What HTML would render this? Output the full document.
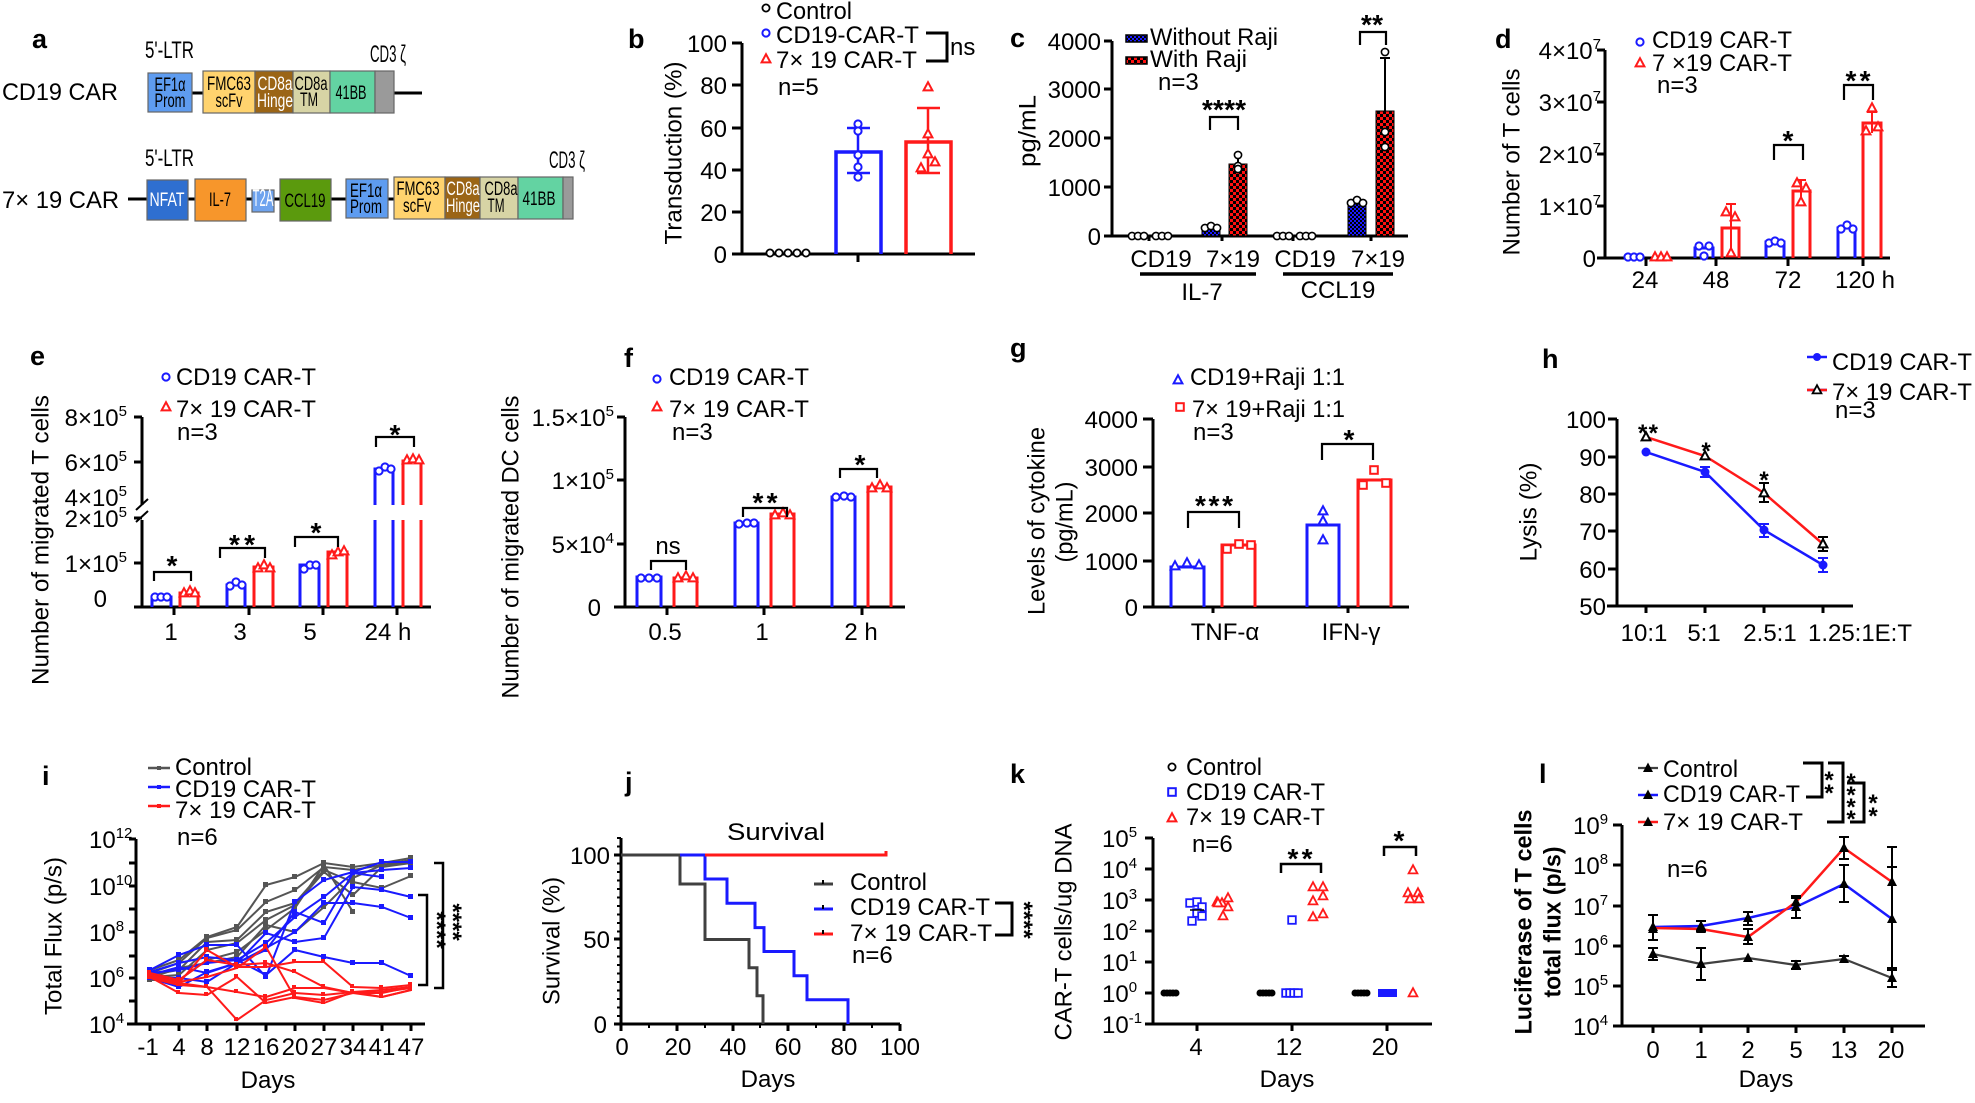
<!DOCTYPE html>
<html><head><meta charset="utf-8"><style>
html,body{margin:0;padding:0;background:#fff}
svg text{font-family:"Liberation Sans",Arial,"DejaVu Sans",sans-serif;font-size:24px;fill:#000}
.pl{font-weight:bold;font-size:27px}
.st{font-weight:bold;font-size:28px}
.bx{font-size:19px}
</style></head><body>
<svg width="1975" height="1098" viewBox="0 0 1975 1098" xmlns="http://www.w3.org/2000/svg">
<defs>
<circle id="ci" r="3.6"/>
<polygon id="tri" points="0,-4.8 -4.4,3.4 4.4,3.4"/>
<polygon id="trf" points="0,-5.5 -5,4 5,4"/>
<rect id="sq" x="-3.8" y="-3.8" width="7.6" height="7.6"/>
<pattern id="rch" width="6" height="6" patternUnits="userSpaceOnUse"><rect width="6" height="6" fill="#ff1010"/><rect width="3" height="3" fill="#000"/><rect x="3" y="3" width="3" height="3" fill="#000"/></pattern>
<pattern id="bch" width="4" height="4" patternUnits="userSpaceOnUse"><rect width="4" height="4" fill="#1a1aff"/><rect width="2" height="2" fill="#000"/><rect x="2" y="2" width="2" height="2" fill="#000"/></pattern>
<marker id="mgr" markerUnits="userSpaceOnUse" markerWidth="6" markerHeight="6" refX="3" refY="3"><rect width="5" height="5" fill="#555"/></marker>
<marker id="mbl" markerUnits="userSpaceOnUse" markerWidth="6" markerHeight="6" refX="3" refY="3"><rect width="5" height="5" fill="#1a1aff"/></marker>
<marker id="mrd" markerUnits="userSpaceOnUse" markerWidth="6" markerHeight="6" refX="3" refY="3"><rect width="4" height="4" fill="#ff1a1a"/></marker>
</defs>

<!-- ============ PANEL A ============ -->
<text x="32" y="48" class="pl">a</text>
<text x="145" y="58" font-size="20" textLength="49" lengthAdjust="spacingAndGlyphs">5'-LTR</text>
<text x="370" y="62" font-size="18" textLength="36" lengthAdjust="spacingAndGlyphs">CD3 ζ</text>
<text x="2" y="100" textLength="116" lengthAdjust="spacingAndGlyphs">CD19 CAR</text>
<path d="M190,93 H206 M392,93 H422" stroke="#000" stroke-width="3"/>
<g stroke="#666" stroke-width="1.2">
<rect x="148" y="73" width="44" height="39" fill="#5e9cf0"/>
<rect x="203" y="71" width="52" height="42" fill="#ffd36e"/>
<rect x="255" y="71" width="38" height="42" fill="#9b6516"/>
<rect x="293" y="71" width="37" height="42" fill="#d7d4a5"/>
<rect x="330" y="71" width="45" height="42" fill="#63d3a2"/>
<rect x="375" y="71" width="19" height="42" fill="#9a9a9a"/>
</g>
<g class="bx" text-anchor="middle">
<text class="bx" x="170" y="91" textLength="31" lengthAdjust="spacingAndGlyphs">EF1α</text>
<text class="bx" x="170" y="107" textLength="31" lengthAdjust="spacingAndGlyphs">Prom</text>
<text class="bx" x="229" y="90" textLength="44" lengthAdjust="spacingAndGlyphs">FMC63</text>
<text class="bx" x="229" y="107" textLength="27" lengthAdjust="spacingAndGlyphs">scFv</text>
<text class="bx" x="275" y="90" textLength="35" lengthAdjust="spacingAndGlyphs" style="fill:#fff">CD8a</text>
<text class="bx" x="275" y="107" textLength="36" lengthAdjust="spacingAndGlyphs" style="fill:#fff">Hinge</text>
<text class="bx" x="311" y="90" textLength="33" lengthAdjust="spacingAndGlyphs">CD8a</text>
<text class="bx" x="309" y="106" textLength="18" lengthAdjust="spacingAndGlyphs">TM</text>
<text class="bx" x="351" y="99" textLength="31" lengthAdjust="spacingAndGlyphs">41BB</text>
</g>
<text x="145" y="166" font-size="20" textLength="49" lengthAdjust="spacingAndGlyphs">5'-LTR</text>
<text x="549" y="168" font-size="18" textLength="36" lengthAdjust="spacingAndGlyphs">CD3 ζ</text>
<text x="2" y="208" textLength="117" lengthAdjust="spacingAndGlyphs">7× 19 CAR</text>
<path d="M128,199 H394" stroke="#000" stroke-width="3"/>
<g stroke="#666" stroke-width="1.2">
<rect x="147" y="180" width="41" height="40" fill="#2f6fd0"/>
<rect x="195" y="179" width="51" height="42" fill="#f7962b"/>
<rect x="252" y="190" width="22" height="22" fill="#6ea3ee"/>
<rect x="280" y="179" width="51" height="42" fill="#5b9a0d"/>
<rect x="346" y="179" width="42" height="39" fill="#5e9cf0"/>
<rect x="394" y="177" width="51" height="42" fill="#ffd36e"/>
<rect x="445" y="177" width="35" height="42" fill="#9b6516"/>
<rect x="480" y="177" width="38" height="42" fill="#d7d4a5"/>
<rect x="518" y="177" width="45" height="42" fill="#63d3a2"/>
<rect x="563" y="177" width="10" height="42" fill="#9a9a9a"/>
</g>
<g text-anchor="middle">
<text class="bx" x="167" y="206" textLength="35" lengthAdjust="spacingAndGlyphs" style="fill:#fff">NFAT</text>
<text class="bx" x="220" y="206" textLength="22" lengthAdjust="spacingAndGlyphs">IL-7</text>
<text x="263" y="206" font-size="16" textLength="21" lengthAdjust="spacingAndGlyphs" style="fill:#fff">T2A</text>
<text class="bx" x="305" y="207" textLength="41" lengthAdjust="spacingAndGlyphs">CCL19</text>
<text class="bx" x="366" y="197" textLength="32" lengthAdjust="spacingAndGlyphs">EF1α</text>
<text class="bx" x="366" y="213" textLength="32" lengthAdjust="spacingAndGlyphs">Prom</text>
<text class="bx" x="418" y="195" textLength="43" lengthAdjust="spacingAndGlyphs">FMC63</text>
<text class="bx" x="417" y="212" textLength="28" lengthAdjust="spacingAndGlyphs">scFv</text>
<text class="bx" x="463" y="195" textLength="33" lengthAdjust="spacingAndGlyphs" style="fill:#fff">CD8a</text>
<text class="bx" x="463" y="212" textLength="34" lengthAdjust="spacingAndGlyphs" style="fill:#fff">Hinge</text>
<text class="bx" x="501" y="195" textLength="33" lengthAdjust="spacingAndGlyphs">CD8a</text>
<text class="bx" x="496" y="212" textLength="17" lengthAdjust="spacingAndGlyphs">TM</text>
<text class="bx" x="539" y="205" textLength="33" lengthAdjust="spacingAndGlyphs">41BB</text>
</g>

<!-- ============ PANEL B ============ -->
<text x="628" y="48" class="pl">b</text>
<path d="M742,43 V254 M732,43 H742 M732,85 H742 M732,128 H742 M732,170 H742 M732,212 H742 M732,254 H975 M858,254 V262" stroke="#000" stroke-width="3" fill="none"/>
<g text-anchor="end"><text x="727" y="52">100</text><text x="727" y="94">80</text><text x="727" y="137">60</text><text x="727" y="179">40</text><text x="727" y="221">20</text><text x="727" y="263">0</text></g>
<text transform="translate(673,153) rotate(-90)" text-anchor="middle" dy="0.35em" textLength="183" lengthAdjust="spacingAndGlyphs">Transduction (%)</text>
<path d="M836,254 V152 H881 V254" stroke="#1a1aff" stroke-width="3.5" fill="none"/>
<path d="M906,254 V142 H951 V254" stroke="#ff1a1a" stroke-width="3.5" fill="none"/>
<path d="M858,128 V173 M847,128 H870 M847,173 H870" stroke="#1a1aff" stroke-width="2.5"/>
<path d="M928,108 V173 M917,108 H940 M917,173 H940" stroke="#ff1a1a" stroke-width="2.5"/>
<g fill="#fff" stroke="#000" stroke-width="1.8"><use href="#ci" x="770" y="253"/><use href="#ci" x="779" y="253"/><use href="#ci" x="788" y="253"/><use href="#ci" x="797" y="253"/><use href="#ci" x="806" y="253"/></g>
<g fill="#fff" stroke="#1a1aff" stroke-width="2"><use href="#ci" x="858" y="124"/><use href="#ci" x="858" y="131"/><use href="#ci" x="858" y="155"/><use href="#ci" x="858" y="167"/><use href="#ci" x="858" y="177"/></g>
<g fill="#fff" stroke="#ff1a1a" stroke-width="2"><use href="#tri" x="928" y="87"/><use href="#tri" x="928" y="134"/><use href="#tri" x="928" y="154"/><use href="#tri" x="921" y="168"/><use href="#tri" x="935" y="162"/></g>
<use href="#ci" x="766" y="8" fill="#fff" stroke="#000" stroke-width="1.8"/>
<use href="#ci" x="766" y="33" fill="#fff" stroke="#1a1aff" stroke-width="2"/>
<use href="#tri" x="766" y="59" fill="#fff" stroke="#ff1a1a" stroke-width="2"/>
<text x="776" y="19" textLength="76" lengthAdjust="spacingAndGlyphs">Control</text>
<text x="776" y="43" textLength="143" lengthAdjust="spacingAndGlyphs">CD19-CAR-T</text>
<text x="776" y="68" textLength="141" lengthAdjust="spacingAndGlyphs">7× 19 CAR-T</text>
<text x="778" y="95">n=5</text>
<path d="M926,33 H947 V61 H926" stroke="#000" stroke-width="3" fill="none"/>
<text x="950" y="55">ns</text>

<!-- ============ PANEL C ============ -->
<text x="1010" y="47" class="pl">c</text>
<path d="M1112,41 V236 M1104,41 H1112 M1104,89 H1112 M1104,138 H1112 M1104,187 H1112 M1104,236 H1408 M1149,236 V241 M1222,236 V241 M1293,236 V241 M1371,236 V241" stroke="#000" stroke-width="3" fill="none"/>
<g text-anchor="end"><text x="1101" y="50">4000</text><text x="1101" y="98">3000</text><text x="1101" y="147">2000</text><text x="1101" y="196">1000</text><text x="1101" y="245">0</text></g>
<text transform="translate(1027,131) rotate(-90)" text-anchor="middle" dy="0.35em" textLength="72" lengthAdjust="spacingAndGlyphs">pg/mL</text>
<rect x="1126" y="35" width="21" height="7" fill="url(#bch)" stroke="#000" stroke-width="1.5"/>
<rect x="1126" y="57" width="21" height="7" fill="url(#rch)" stroke="#000" stroke-width="1.5"/>
<text x="1150" y="45" textLength="128" lengthAdjust="spacingAndGlyphs">Without Raji</text>
<text x="1150" y="67" textLength="97" lengthAdjust="spacingAndGlyphs">With Raji</text>
<text x="1158" y="90">n=3</text>
<rect x="1202" y="228" width="18" height="8" fill="url(#bch)" stroke="#000" stroke-width="1"/>
<rect x="1229" y="164" width="18" height="72" fill="url(#rch)" stroke="#000" stroke-width="1"/>
<rect x="1348" y="204" width="18" height="32" fill="url(#bch)" stroke="#000" stroke-width="1"/>
<rect x="1376" y="111" width="18" height="125" fill="url(#rch)" stroke="#000" stroke-width="1"/>
<path d="M1238,164 V154 M1234,154 H1242 M1385,111 V58 M1380,58 H1390" stroke="#000" stroke-width="2"/>
<g fill="#fff" stroke="#000" stroke-width="1.6">
<use href="#ci" x="1132" y="236"/><use href="#ci" x="1138" y="236"/><use href="#ci" x="1144" y="236"/><use href="#ci" x="1156" y="236"/><use href="#ci" x="1162" y="236"/><use href="#ci" x="1168" y="236"/>
<use href="#ci" x="1277" y="236"/><use href="#ci" x="1283" y="236"/><use href="#ci" x="1289" y="236"/><use href="#ci" x="1300" y="236"/><use href="#ci" x="1306" y="236"/><use href="#ci" x="1312" y="236"/>
<use href="#ci" x="1205" y="228"/><use href="#ci" x="1211" y="226"/><use href="#ci" x="1217" y="228"/>
<use href="#ci" x="1238" y="155"/><use href="#ci" x="1238" y="166"/><use href="#ci" x="1238" y="169"/>
<use href="#ci" x="1351" y="203"/><use href="#ci" x="1357" y="200"/><use href="#ci" x="1363" y="203"/>
<use href="#ci" x="1385" y="52"/><use href="#ci" x="1385" y="132"/><use href="#ci" x="1385" y="147"/>
</g>
<text x="1224" y="119" class="st" text-anchor="middle" textLength="44">****</text>
<path d="M1210,130 V117 H1238 V130" stroke="#000" stroke-width="2.2" fill="none"/>
<text x="1372" y="34" class="st" text-anchor="middle" textLength="22">**</text>
<path d="M1360,45 V32 H1386 V45" stroke="#000" stroke-width="2.2" fill="none"/>
<g text-anchor="middle"><text x="1161" y="267">CD19</text><text x="1233" y="267">7×19</text><text x="1305" y="267">CD19</text><text x="1378" y="267">7×19</text><text x="1202" y="300">IL-7</text><text x="1338" y="298">CCL19</text></g>
<path d="M1140,274 H1256 M1283,274 H1393" stroke="#000" stroke-width="3.5"/>

<!-- ============ PANEL D ============ -->
<text x="1495" y="48" class="pl">d</text>
<path d="M1605,50 V258 M1597,50 H1605 M1597,102 H1605 M1597,154 H1605 M1597,206 H1605 M1597,258 H1890 M1646,258 V266 M1716,258 V266 M1788,258 V266 M1863,258 V266" stroke="#000" stroke-width="3" fill="none"/>
<g text-anchor="end">
<text x="1601" y="59">4×10<tspan dy="-10" font-size="15">7</tspan></text>
<text x="1601" y="111">3×10<tspan dy="-10" font-size="15">7</tspan></text>
<text x="1601" y="163">2×10<tspan dy="-10" font-size="15">7</tspan></text>
<text x="1601" y="215">1×10<tspan dy="-10" font-size="15">7</tspan></text>
<text x="1596" y="267">0</text></g>
<text transform="translate(1511,162) rotate(-90)" text-anchor="middle" dy="0.35em" textLength="187" lengthAdjust="spacingAndGlyphs">Number of T cells</text>
<g text-anchor="middle"><text x="1645" y="288">24</text><text x="1716" y="288">48</text><text x="1788" y="288">72</text><text x="1865" y="288">120 h</text></g>
<use href="#ci" x="1640" y="42" fill="#fff" stroke="#1a1aff" stroke-width="2"/>
<use href="#tri" x="1640" y="63" fill="#fff" stroke="#ff1a1a" stroke-width="2"/>
<text x="1652" y="48" textLength="140" lengthAdjust="spacingAndGlyphs">CD19 CAR-T</text>
<text x="1652" y="71" textLength="140" lengthAdjust="spacingAndGlyphs">7 ×19 CAR-T</text>
<text x="1657" y="93">n=3</text>
<g stroke="#1a1aff" stroke-width="3" fill="none"><path d="M1695,258 V248 H1713 V258"/><path d="M1766,258 V242 H1784 V258"/><path d="M1838,258 V228 H1855 V258"/></g>
<g stroke="#ff1a1a" stroke-width="3" fill="none"><path d="M1722,258 V228 H1739 V258"/><path d="M1793,258 V191 H1810 V258"/><path d="M1863,258 V123 H1881 V258"/>
<path d="M1731,204 V252 M1726,204 H1736 M1801,180 V200 M1796,180 H1806 M1872,112 V133 M1867,112 H1877" stroke-width="2"/></g>
<g fill="#fff" stroke="#1a1aff" stroke-width="2"><use href="#ci" x="1628" y="257"/><use href="#ci" x="1634" y="257"/><use href="#ci" x="1640" y="257"/><use href="#ci" x="1699" y="246"/><use href="#ci" x="1709" y="246"/><use href="#ci" x="1704" y="256"/><use href="#ci" x="1769" y="243"/><use href="#ci" x="1775" y="241"/><use href="#ci" x="1781" y="243"/><use href="#ci" x="1841" y="229"/><use href="#ci" x="1847" y="225"/><use href="#ci" x="1853" y="229"/></g>
<g fill="#fff" stroke="#ff1a1a" stroke-width="2"><use href="#tri" x="1655" y="257"/><use href="#tri" x="1661" y="257"/><use href="#tri" x="1667" y="257"/><use href="#tri" x="1726" y="212"/><use href="#tri" x="1735" y="217"/><use href="#tri" x="1731" y="253"/><use href="#tri" x="1797" y="183"/><use href="#tri" x="1806" y="188"/><use href="#tri" x="1801" y="202"/><use href="#tri" x="1872" y="108"/><use href="#tri" x="1866" y="131"/><use href="#tri" x="1878" y="127"/></g>
<text x="1788" y="150" class="st" text-anchor="middle">*</text>
<path d="M1774,160 V145 H1803 V160" stroke="#000" stroke-width="2.2" fill="none"/>
<text x="1858" y="90" class="st" text-anchor="middle" textLength="25">**</text>
<path d="M1844,100 V85 H1873 V100" stroke="#000" stroke-width="2.2" fill="none"/>

<!-- ============ PANEL E ============ -->
<text x="30" y="365" class="pl">e</text>
<path d="M142,417 V505 M142,520 V607 M134,417 H142 M134,462 H142 M134,518 H142 M134,563 H142 M134,607 H431 M174,607 V615 M249,607 V615 M323,607 V615 M397,607 V615" stroke="#000" stroke-width="3" fill="none"/>
<path d="M136,510 L148,499 M136,522 L148,511" stroke="#000" stroke-width="2"/>
<g text-anchor="end">
<text x="127" y="426">8×10<tspan dy="-10" font-size="15">5</tspan></text>
<text x="127" y="471">6×10<tspan dy="-10" font-size="15">5</tspan></text>
<text x="127" y="506">4×10<tspan dy="-10" font-size="15">5</tspan></text>
<text x="127" y="527">2×10<tspan dy="-10" font-size="15">5</tspan></text>
<text x="127" y="572">1×10<tspan dy="-10" font-size="15">5</tspan></text>
<text x="107" y="607">0</text></g>
<text transform="translate(40,540) rotate(-90)" text-anchor="middle" dy="0.35em" textLength="290" lengthAdjust="spacingAndGlyphs">Number of  migrated T cells</text>
<g text-anchor="middle"><text x="171" y="640">1</text><text x="240" y="640">3</text><text x="310" y="640">5</text><text x="388" y="640">24 h</text></g>
<use href="#ci" x="166" y="377" fill="#fff" stroke="#1a1aff" stroke-width="2"/>
<use href="#tri" x="166" y="407" fill="#fff" stroke="#ff1a1a" stroke-width="2"/>
<text x="176" y="385" textLength="140" lengthAdjust="spacingAndGlyphs">CD19 CAR-T</text>
<text x="176" y="417" textLength="140" lengthAdjust="spacingAndGlyphs">7× 19 CAR-T</text>
<text x="177" y="440">n=3</text>
<g stroke="#1a1aff" stroke-width="3" fill="none"><path d="M152,607 V597 H171 V607"/><path d="M227,607 V585 H245 V607"/><path d="M300,607 V565 H319 V607"/><path d="M375,607 V520 M375,505 V469 H393 V505 M393,520 V607"/></g>
<g stroke="#ff1a1a" stroke-width="3" fill="none"><path d="M180,607 V593 H198 V607"/><path d="M254,607 V567 H273 V607"/><path d="M328,607 V552 H347 V607"/><path d="M403,607 V520 M403,505 V461 H421 V505 M421,520 V607"/></g>
<g fill="#fff" stroke="#1a1aff" stroke-width="2"><use href="#ci" x="155" y="597"/><use href="#ci" x="161" y="597"/><use href="#ci" x="167" y="597"/><use href="#ci" x="230" y="586"/><use href="#ci" x="236" y="582"/><use href="#ci" x="242" y="585"/><use href="#ci" x="304" y="569"/><use href="#ci" x="310" y="565"/><use href="#ci" x="316" y="565"/><use href="#ci" x="379" y="471"/><use href="#ci" x="385" y="467"/><use href="#ci" x="391" y="469"/></g>
<g fill="#fff" stroke="#ff1a1a" stroke-width="2"><use href="#tri" x="184" y="593"/><use href="#tri" x="190" y="591"/><use href="#tri" x="195" y="593"/><use href="#tri" x="258" y="568"/><use href="#tri" x="264" y="565"/><use href="#tri" x="270" y="568"/><use href="#tri" x="332" y="555"/><use href="#tri" x="338" y="552"/><use href="#tri" x="344" y="551"/><use href="#tri" x="407" y="460"/><use href="#tri" x="413" y="459"/><use href="#tri" x="419" y="460"/></g>
<g class="st" text-anchor="middle"><text class="st" x="172" y="575">*</text><text class="st" x="242" y="554" textLength="26">**</text><text class="st" x="316" y="542">*</text><text class="st" x="395" y="444">*</text></g>
<path d="M154,581 V572 H191 V581 M220,558 V548 H265 V558 M295,547 V537 H338 V547 M376,447 V437 H414 V447" stroke="#000" stroke-width="2.2" fill="none"/>

<!-- ============ PANEL F ============ -->
<text x="624" y="367" class="pl">f</text>
<path d="M625,417 V607 M617,417 H625 M617,480 H625 M617,544 H625 M614,607 H905 M667,607 V615 M764,607 V615 M862,607 V615" stroke="#000" stroke-width="3" fill="none"/>
<g text-anchor="end">
<text x="614" y="426">1.5×10<tspan dy="-10" font-size="15">5</tspan></text>
<text x="614" y="489">1×10<tspan dy="-10" font-size="15">5</tspan></text>
<text x="614" y="553">5×10<tspan dy="-10" font-size="15">4</tspan></text>
<text x="601" y="616">0</text></g>
<text transform="translate(510,547) rotate(-90)" text-anchor="middle" dy="0.35em" textLength="303" lengthAdjust="spacingAndGlyphs">Number of migrated DC cells</text>
<g text-anchor="middle"><text x="665" y="640">0.5</text><text x="762" y="640">1</text><text x="861" y="640">2 h</text></g>
<use href="#ci" x="657" y="379" fill="#fff" stroke="#1a1aff" stroke-width="2"/>
<use href="#tri" x="657" y="407" fill="#fff" stroke="#ff1a1a" stroke-width="2"/>
<text x="669" y="385" textLength="140" lengthAdjust="spacingAndGlyphs">CD19 CAR-T</text>
<text x="669" y="417" textLength="140" lengthAdjust="spacingAndGlyphs">7× 19 CAR-T</text>
<text x="672" y="440">n=3</text>
<g stroke="#1a1aff" stroke-width="3" fill="none"><path d="M637,607 V577 H661 V607"/><path d="M735,607 V523 H758 V607"/><path d="M832,607 V497 H855 V607"/></g>
<g stroke="#ff1a1a" stroke-width="3" fill="none"><path d="M674,607 V578 H697 V607"/><path d="M771,607 V514 H794 V607"/><path d="M868,607 V487 H891 V607"/></g>
<g fill="#fff" stroke="#1a1aff" stroke-width="2"><use href="#ci" x="641" y="578"/><use href="#ci" x="649" y="578"/><use href="#ci" x="657" y="578"/><use href="#ci" x="739" y="524"/><use href="#ci" x="747" y="523"/><use href="#ci" x="754" y="523"/><use href="#ci" x="836" y="497"/><use href="#ci" x="844" y="496"/><use href="#ci" x="851" y="497"/></g>
<g fill="#fff" stroke="#ff1a1a" stroke-width="2"><use href="#tri" x="678" y="578"/><use href="#tri" x="686" y="576"/><use href="#tri" x="693" y="578"/><use href="#tri" x="775" y="515"/><use href="#tri" x="783" y="513"/><use href="#tri" x="790" y="515"/><use href="#tri" x="872" y="488"/><use href="#tri" x="880" y="485"/><use href="#tri" x="887" y="488"/></g>
<text x="668" y="554" text-anchor="middle" font-size="22">ns</text>
<text class="st" x="765" y="512" text-anchor="middle" textLength="25">**</text>
<text class="st" x="860" y="474" text-anchor="middle">*</text>
<path d="M651,570 V561 H686 V570 M743,517 V508 H787 V517 M840,478 V469 H877 V478" stroke="#000" stroke-width="2.2" fill="none"/>

<!-- ============ PANEL G ============ -->
<text x="1010" y="357" class="pl">g</text>
<path d="M1153,419 V607 M1143,419 H1153 M1143,467 H1153 M1143,513 H1153 M1143,561 H1153 M1143,607 H1409 M1213,607 V613 M1348,607 V613" stroke="#000" stroke-width="3" fill="none"/>
<g text-anchor="end"><text x="1138" y="428">4000</text><text x="1138" y="476">3000</text><text x="1138" y="522">2000</text><text x="1138" y="570">1000</text><text x="1138" y="616">0</text></g>
<text transform="translate(1036,521) rotate(-90)" text-anchor="middle" dy="0.35em" textLength="188" lengthAdjust="spacingAndGlyphs">Levels of cytokine</text>
<text transform="translate(1064,522) rotate(-90)" text-anchor="middle" dy="0.35em" textLength="81" lengthAdjust="spacingAndGlyphs">(pg/mL)</text>
<g text-anchor="middle"><text x="1225" y="640">TNF-α</text><text x="1351" y="640">IFN-γ</text></g>
<use href="#tri" x="1178" y="380" fill="#fff" stroke="#1a1aff" stroke-width="2"/>
<use href="#sq" x="1180" y="407" fill="#fff" stroke="#ff1a1a" stroke-width="2"/>
<text x="1190" y="385" textLength="155" lengthAdjust="spacingAndGlyphs">CD19+Raji 1:1</text>
<text x="1192" y="417" textLength="153" lengthAdjust="spacingAndGlyphs">7× 19+Raji 1:1</text>
<text x="1193" y="440">n=3</text>
<g stroke="#1a1aff" stroke-width="3" fill="none"><path d="M1171,607 V567 H1204 V607"/><path d="M1307,607 V525 H1339 V607"/></g>
<g stroke="#ff1a1a" stroke-width="3" fill="none"><path d="M1222,607 V545 H1255 V607"/><path d="M1358,607 V480 H1391 V607"/></g>
<g fill="#fff" stroke="#1a1aff" stroke-width="2"><use href="#tri" x="1175" y="566"/><use href="#tri" x="1187" y="563"/><use href="#tri" x="1199" y="565"/><use href="#tri" x="1323" y="511"/><use href="#tri" x="1323" y="521"/><use href="#tri" x="1323" y="540"/></g>
<g fill="#fff" stroke="#ff1a1a" stroke-width="2"><use href="#sq" x="1227" y="549"/><use href="#sq" x="1239" y="544"/><use href="#sq" x="1251" y="545"/><use href="#sq" x="1363" y="485"/><use href="#sq" x="1374" y="470"/><use href="#sq" x="1386" y="483"/></g>
<text class="st" x="1214" y="515" text-anchor="middle" textLength="38">***</text>
<text class="st" x="1349" y="449" text-anchor="middle">*</text>
<path d="M1188,528 V512 H1239 V528 M1322,460 V444 H1373 V460" stroke="#000" stroke-width="2.2" fill="none"/>

<!-- ============ PANEL H ============ -->
<text x="1542" y="368" class="pl">h</text>
<path d="M1617,419 V606 M1608,419 H1617 M1608,457 H1617 M1608,494 H1617 M1608,531 H1617 M1608,569 H1617 M1607,606 H1853 M1646,606 V613 M1705,606 V613 M1764,606 V613 M1823,606 V613" stroke="#000" stroke-width="3" fill="none"/>
<g text-anchor="end"><text x="1606" y="428">100</text><text x="1606" y="466">90</text><text x="1606" y="503">80</text><text x="1606" y="540">70</text><text x="1606" y="578">60</text><text x="1606" y="615">50</text></g>
<text transform="translate(1528,512) rotate(-90)" text-anchor="middle" dy="0.35em" textLength="99" lengthAdjust="spacingAndGlyphs">Lysis (%)</text>
<g text-anchor="middle"><text x="1644" y="641">10:1</text><text x="1704" y="641">5:1</text><text x="1770" y="641">2.5:1</text></g>
<text x="1808" y="641" textLength="104" lengthAdjust="spacingAndGlyphs">1.25:1E:T</text>
<polyline points="1646,452 1705,472 1764,530 1823,565" fill="none" stroke="#1a1aff" stroke-width="2.5"/>
<polyline points="1646,437 1705,456 1764,493 1823,544" fill="none" stroke="#ff1a1a" stroke-width="2.5"/>
<path d="M1705,467 V477 M1700,467 H1710 M1700,477 H1710 M1764,524 V537 M1759,524 H1769 M1759,537 H1769 M1823,558 V572 M1818,558 H1828 M1818,572 H1828" stroke="#1a1aff" stroke-width="2"/>
<path d="M1764,483 V502 M1759,483 H1769 M1759,502 H1769 M1823,537 V551 M1818,537 H1828 M1818,551 H1828" stroke="#000" stroke-width="2"/>
<g fill="#1a1aff"><circle cx="1646" cy="452" r="4.5"/><circle cx="1705" cy="472" r="4.5"/><circle cx="1764" cy="530" r="4.5"/><circle cx="1823" cy="565" r="4.5"/></g>
<g fill="#fff" stroke="#000" stroke-width="2"><use href="#tri" x="1646" y="437"/><use href="#tri" x="1705" y="456"/><use href="#tri" x="1764" y="493"/><use href="#tri" x="1823" y="544"/></g>
<text x="1648" y="441" text-anchor="middle" font-weight="bold" font-size="26" textLength="20">**</text>
<text x="1706" y="459" text-anchor="middle" font-weight="bold" font-size="26">*</text>
<text x="1764" y="488" text-anchor="middle" font-weight="bold" font-size="26">*</text>
<path d="M1807,357 H1827 M1807,390 H1827" stroke-width="2.5" stroke="#1a1aff"/>
<path d="M1807,390 H1827" stroke-width="2.5" stroke="#ff1a1a"/>
<circle cx="1817" cy="357" r="4" fill="#1a1aff"/>
<use href="#tri" x="1817" y="390" fill="#fff" stroke="#000" stroke-width="1.8"/>
<text x="1832" y="370" textLength="140" lengthAdjust="spacingAndGlyphs">CD19 CAR-T</text>
<text x="1832" y="400" textLength="140" lengthAdjust="spacingAndGlyphs">7× 19 CAR-T</text>
<text x="1835" y="418">n=3</text>

<!-- ============ PANEL I ============ -->
<text x="42" y="785" class="pl">i</text>
<path d="M136,839 V1024 M129,839 H136 M129,863 H136 M129,886 H136 M129,909 H136 M129,932 H136 M129,956 H136 M129,978 H136 M129,1001 H136 M127,1024 H425 M150,1024 V1031 M179,1024 V1031 M207,1024 V1031 M237,1024 V1031 M266,1024 V1031 M295,1024 V1031 M324,1024 V1031 M353,1024 V1031 M382,1024 V1031 M411,1024 V1031" stroke="#000" stroke-width="3" fill="none"/>
<text x="89" y="848">10<tspan dy="-10" font-size="15">12</tspan></text>
<text x="89" y="895">10<tspan dy="-10" font-size="15">10</tspan></text>
<text x="89" y="941">10<tspan dy="-10" font-size="15">8</tspan></text>
<text x="89" y="987">10<tspan dy="-10" font-size="15">6</tspan></text>
<text x="89" y="1033">10<tspan dy="-10" font-size="15">4</tspan></text>
<text transform="translate(53,936) rotate(-90)" text-anchor="middle" dy="0.35em" textLength="158" lengthAdjust="spacingAndGlyphs">Total Flux (p/s)</text>
<g text-anchor="middle"><text x="148" y="1055">-1</text><text x="179" y="1055">4</text><text x="207" y="1055">8</text><text x="237" y="1055">12</text><text x="266" y="1055">16</text><text x="295" y="1055">20</text><text x="324" y="1055">27</text><text x="353" y="1055">34</text><text x="382" y="1055">41</text><text x="411" y="1055">47</text><text x="268" y="1088">Days</text></g>
<g fill="none" stroke="#555" stroke-width="2" marker-start="url(#mgr)" marker-mid="url(#mgr)" marker-end="url(#mgr)">
<polyline points="150,970 179,960 207,937 237,927 266,885 295,877 324,863 353,867 382,863 411,858"/>
<polyline points="150,973 179,963 207,938 237,930 266,902 295,890 324,867 353,870 382,865 411,862"/>
<polyline points="150,975 179,970 207,942 237,940 266,912 295,903 324,870 353,882 382,888 411,876"/>
<polyline points="150,977 179,975 207,950 237,943 266,920 295,905 324,872 353,895 382,867 411,863"/>
<polyline points="150,978 179,968 207,963 237,957 266,925 295,932 324,907 353,878 382,865 411,860"/>
<polyline points="150,980 179,980 207,960 237,952 266,930 295,908 324,865 353,912"/>
</g>
<g fill="none" stroke="#1a1aff" stroke-width="2" marker-start="url(#mbl)" marker-mid="url(#mbl)" marker-end="url(#mbl)">
<polyline points="150,970 179,955 207,945 237,945 266,977 295,902 324,880 353,872 382,862 411,862"/>
<polyline points="150,973 179,970 207,963 237,960 266,943 295,917 324,897 353,873 382,877"/>
<polyline points="150,977 179,978 207,982 237,963 266,950 295,912 324,923 353,873 382,870 411,868"/>
<polyline points="150,978 179,987 207,972 237,963 266,933 295,942 324,938 353,887 382,890 411,897"/>
<polyline points="150,975 179,967 207,973 237,963 266,948 295,932 324,903 353,903 382,907 411,918"/>
<polyline points="150,972 179,963 207,957 237,960 266,975 295,950 324,957 353,963 382,963 411,976"/>
</g>
<g fill="none" stroke="#ff1a1a" stroke-width="2" marker-start="url(#mrd)" marker-mid="url(#mrd)" marker-end="url(#mrd)">
<polyline points="150,975 179,983 207,950 237,967 266,967 295,962 324,962 353,987 382,988 411,985"/>
<polyline points="150,973 179,980 207,960 237,965 266,963 295,972 324,987 353,993 382,993 411,987"/>
<polyline points="150,977 179,993 207,995 237,977 266,1003 295,997 324,1000 353,993 382,997 411,990"/>
<polyline points="150,978 179,985 207,987 237,992 266,997 295,988 324,988 353,993 382,992 411,988"/>
<polyline points="150,977 179,983 207,987 237,1020 266,1000 295,993 324,995 353,992 382,990 411,987"/>
<polyline points="150,975 179,982 207,977 237,968 266,947 295,998 324,1003 353,992 382,997 411,990"/>
</g>
<path d="M148,768 H170" stroke="#555" stroke-width="2.5"/><rect x="157" y="766" width="4" height="4" fill="#555"/>
<path d="M148,787 H170" stroke="#1a1aff" stroke-width="2.5"/><rect x="157" y="785" width="4" height="4" fill="#1a1aff"/>
<path d="M148,806 H170" stroke="#ff1a1a" stroke-width="2.5"/><rect x="157" y="804" width="4" height="4" fill="#ff1a1a"/>
<text x="175" y="775" textLength="77" lengthAdjust="spacingAndGlyphs">Control</text>
<text x="175" y="797" textLength="141" lengthAdjust="spacingAndGlyphs">CD19 CAR-T</text>
<text x="175" y="818" textLength="141" lengthAdjust="spacingAndGlyphs">7× 19 CAR-T</text>
<text x="177" y="845">n=6</text>
<path d="M434,863 H443 V988 H434 M418,895 H427 V985 H418" stroke="#000" stroke-width="2.5" fill="none"/>
<text transform="translate(445,922) rotate(90)" text-anchor="middle" font-size="18" font-weight="bold">****</text>
<text transform="translate(429,930) rotate(90)" text-anchor="middle" font-size="18" font-weight="bold">****</text>

<!-- ============ PANEL J ============ -->
<text x="625" y="791" class="pl">j</text>
<text x="776" y="840" text-anchor="middle" font-size="26" textLength="98" lengthAdjust="spacingAndGlyphs">Survival</text>
<path d="M621,838 V1024 M614,855 H621 M614,939 H621 M614,1024 H900 M621,1024 V1031 M677,1024 V1031 M733,1024 V1031 M788,1024 V1031 M844,1024 V1031 M900,1024 V1031" stroke="#000" stroke-width="3" fill="none"/>
<path d="M617,838 H621 M617,846.5 H621 M617,863.5 H621 M617,872 H621 M617,880.5 H621 M617,889 H621 M617,897.5 H621 M617,906 H621 M617,914.5 H621 M617,923 H621 M617,931.5 H621 M617,948 H621 M617,956.5 H621 M617,965 H621 M617,973.5 H621 M617,982 H621 M617,990.5 H621 M617,999 H621 M617,1007.5 H621 M617,1016 H621 M649,1024 V1028 M705,1024 V1028 M760,1024 V1028 M816,1024 V1028 M872,1024 V1028" stroke="#000" stroke-width="2" fill="none"/>
<g text-anchor="end"><text x="610" y="864">100</text><text x="610" y="948">50</text><text x="607" y="1033">0</text></g>
<text transform="translate(551,941) rotate(-90)" text-anchor="middle" dy="0.35em" textLength="128" lengthAdjust="spacingAndGlyphs">Survival (%)</text>
<g text-anchor="middle"><text x="622" y="1055">0</text><text x="678" y="1055">20</text><text x="733" y="1055">40</text><text x="788" y="1055">60</text><text x="844" y="1055">80</text><text x="900" y="1055">100</text><text x="768" y="1087">Days</text></g>
<path d="M621,855 H680 V884 H705 V939.5 H749 V967.7 H757 V995.8 H763 V1024" fill="none" stroke="#404040" stroke-width="3"/>
<path d="M680,855 H705 V879 H727 V903.3 H755 V927.6 H764 V951.5 H794 V975.7 H807 V999.8 H848 V1024" fill="none" stroke="#1a1aff" stroke-width="3"/>
<path d="M705,855 H886 V851" fill="none" stroke="#ff1a1a" stroke-width="3"/>
<path d="M814,884 H833" stroke="#404040" stroke-width="3"/><path d="M823,880 V884" stroke="#000" stroke-width="2"/>
<path d="M814,909 H833" stroke="#1a1aff" stroke-width="3"/><path d="M823,905 V909" stroke="#000" stroke-width="2"/>
<path d="M814,934 H833" stroke="#ff1a1a" stroke-width="3"/><path d="M823,930 V934" stroke="#000" stroke-width="2"/>
<text x="850" y="890" textLength="77" lengthAdjust="spacingAndGlyphs">Control</text>
<text x="850" y="915" textLength="140" lengthAdjust="spacingAndGlyphs">CD19 CAR-T</text>
<text x="850" y="941" textLength="142" lengthAdjust="spacingAndGlyphs">7× 19 CAR-T</text>
<text x="852" y="963">n=6</text>
<path d="M995,903 H1012 V935 H995" stroke="#000" stroke-width="3" fill="none"/>
<text transform="translate(1016,920) rotate(90)" text-anchor="middle" font-size="18" font-weight="bold">****</text>

<!-- ============ PANEL K ============ -->
<text x="1010" y="783" class="pl">k</text>
<path d="M1153,838 V1024 M1145,838 H1153 M1145,869 H1153 M1145,900 H1153 M1145,931 H1153 M1145,962 H1153 M1145,993 H1153 M1145,1024 H1432 M1197,1024 V1031 M1292,1024 V1031 M1387,1024 V1031" stroke="#000" stroke-width="3" fill="none"/>
<text x="1102" y="847">10<tspan dy="-10" font-size="15">5</tspan></text>
<text x="1102" y="878">10<tspan dy="-10" font-size="15">4</tspan></text>
<text x="1102" y="909">10<tspan dy="-10" font-size="15">3</tspan></text>
<text x="1102" y="940">10<tspan dy="-10" font-size="15">2</tspan></text>
<text x="1102" y="971">10<tspan dy="-10" font-size="15">1</tspan></text>
<text x="1102" y="1002">10<tspan dy="-10" font-size="15">0</tspan></text>
<text x="1102" y="1033">10<tspan dy="-10" font-size="15">-1</tspan></text>
<text transform="translate(1063,932) rotate(-90)" text-anchor="middle" dy="0.35em" textLength="217" lengthAdjust="spacingAndGlyphs">CAR-T cells/ug DNA</text>
<g text-anchor="middle"><text x="1196" y="1055">4</text><text x="1289" y="1055">12</text><text x="1385" y="1055">20</text><text x="1287" y="1087">Days</text></g>
<g fill="#000"><circle cx="1164" cy="993" r="3.5"/><circle cx="1167" cy="993" r="3.5"/><circle cx="1170" cy="993" r="3.5"/><circle cx="1173" cy="993" r="3.5"/><circle cx="1176" cy="993" r="3.5"/>
<circle cx="1260" cy="993" r="3.5"/><circle cx="1263" cy="993" r="3.5"/><circle cx="1266" cy="993" r="3.5"/><circle cx="1269" cy="993" r="3.5"/><circle cx="1272" cy="993" r="3.5"/>
<circle cx="1355" cy="993" r="3.5"/><circle cx="1358" cy="993" r="3.5"/><circle cx="1361" cy="993" r="3.5"/><circle cx="1364" cy="993" r="3.5"/><circle cx="1367" cy="993" r="3.5"/></g>
<rect x="1378" y="989" width="19" height="8" fill="#1a1aff"/>
<g fill="#fff" stroke="#1a1aff" stroke-width="1.8"><use href="#sq" x="1190" y="903"/><use href="#sq" x="1197" y="902"/><use href="#sq" x="1202" y="907"/><use href="#sq" x="1192" y="921"/><use href="#sq" x="1197" y="913"/><use href="#sq" x="1202" y="916"/>
<use href="#sq" x="1286" y="993"/><use href="#sq" x="1290" y="993"/><use href="#sq" x="1294" y="993"/><use href="#sq" x="1298" y="993"/><use href="#sq" x="1292" y="920"/></g>
<path d="M1190,910 H1204" stroke="#000" stroke-width="1.5"/>
<g fill="#fff" stroke="#ff1a1a" stroke-width="1.8"><use href="#tri" x="1217" y="902"/><use href="#tri" x="1222" y="903"/><use href="#tri" x="1228" y="898"/><use href="#tri" x="1223" y="916"/><use href="#tri" x="1228" y="907"/><use href="#tri" x="1218" y="903"/>
<use href="#tri" x="1313" y="887"/><use href="#tri" x="1323" y="887"/><use href="#tri" x="1313" y="901"/><use href="#tri" x="1323" y="896"/><use href="#tri" x="1313" y="917"/><use href="#tri" x="1323" y="914"/>
<use href="#tri" x="1413" y="870"/><use href="#tri" x="1408" y="893"/><use href="#tri" x="1418" y="893"/><use href="#tri" x="1410" y="899"/><use href="#tri" x="1419" y="899"/><use href="#tri" x="1413" y="993"/></g>
<text class="st" x="1300" y="868" text-anchor="middle" textLength="25">**</text>
<text class="st" x="1399" y="850" text-anchor="middle">*</text>
<path d="M1281,873 V864 H1321 V873 M1384,856 V847 H1416 V856" stroke="#000" stroke-width="2.5" fill="none"/>
<use href="#ci" x="1172" y="767" fill="#fff" stroke="#000" stroke-width="1.8"/>
<use href="#sq" x="1172" y="792" fill="#fff" stroke="#1a1aff" stroke-width="2"/>
<use href="#tri" x="1172" y="818" fill="#fff" stroke="#ff1a1a" stroke-width="2"/>
<text x="1186" y="775" textLength="76" lengthAdjust="spacingAndGlyphs">Control</text>
<text x="1186" y="800" textLength="139" lengthAdjust="spacingAndGlyphs">CD19 CAR-T</text>
<text x="1186" y="825" textLength="139" lengthAdjust="spacingAndGlyphs">7× 19 CAR-T</text>
<text x="1192" y="852">n=6</text>

<!-- ============ PANEL L ============ -->
<text x="1539" y="783" class="pl">l</text>
<path d="M1622,825 V1026 M1613,825 H1622 M1613,865 H1622 M1613,906 H1622 M1613,946 H1622 M1613,986 H1622 M1613,1026 H1925 M1653,1026 V1033 M1701,1026 V1033 M1748,1026 V1033 M1796,1026 V1033 M1844,1026 V1033 M1892,1026 V1033" stroke="#000" stroke-width="3" fill="none"/>
<text x="1573" y="834">10<tspan dy="-10" font-size="15">9</tspan></text>
<text x="1573" y="874">10<tspan dy="-10" font-size="15">8</tspan></text>
<text x="1573" y="915">10<tspan dy="-10" font-size="15">7</tspan></text>
<text x="1573" y="955">10<tspan dy="-10" font-size="15">6</tspan></text>
<text x="1573" y="995">10<tspan dy="-10" font-size="15">5</tspan></text>
<text x="1573" y="1035">10<tspan dy="-10" font-size="15">4</tspan></text>
<text transform="translate(1523,922) rotate(-90)" text-anchor="middle" dy="0.35em" font-weight="bold" textLength="225" lengthAdjust="spacingAndGlyphs">Luciferase of T cells</text>
<text transform="translate(1552,922) rotate(-90)" text-anchor="middle" dy="0.35em" font-weight="bold" textLength="151" lengthAdjust="spacingAndGlyphs">total flux (p/s)</text>
<g text-anchor="middle"><text x="1653" y="1058">0</text><text x="1701" y="1058">1</text><text x="1748" y="1058">2</text><text x="1796" y="1058">5</text><text x="1844" y="1058">13</text><text x="1891" y="1058">20</text><text x="1766" y="1087">Days</text></g>
<text x="1667" y="877">n=6</text>
<polyline points="1653,954 1701,964 1748,958 1796,965 1844,959 1892,978" fill="none" stroke="#404040" stroke-width="2.2"/>
<polyline points="1653,927 1701,926 1748,918 1796,907 1844,884 1892,919" fill="none" stroke="#1a1aff" stroke-width="2.5"/>
<polyline points="1653,928 1701,929 1748,937 1796,902 1844,848 1892,882" fill="none" stroke="#ff1a1a" stroke-width="2.5"/>
<path d="M1653,948 V960 M1648,948 H1658 M1648,960 H1658 M1701,948 V980 M1696,948 H1706 M1696,980 H1706 M1796,961 V969 M1791,961 H1801 M1791,969 H1801 M1844,956 V963 M1839,956 H1849 M1892,968 V987 M1887,968 H1897 M1887,987 H1897
M1653,915 V940 M1648,915 H1658 M1648,940 H1658 M1701,921 V931 M1696,921 H1706 M1696,931 H1706 M1748,912 V925 M1743,912 H1753 M1743,925 H1753 M1796,898 V918 M1791,898 H1801 M1791,918 H1801 M1844,865 V902 M1839,865 H1849 M1839,902 H1849 M1892,867 V970 M1887,867 H1897 M1887,970 H1897
M1748,929 V944 M1743,929 H1753 M1743,944 H1753 M1796,896 V910 M1791,896 H1801 M1844,837 V859 M1839,837 H1849 M1839,859 H1849 M1892,847 V987 M1887,847 H1897 M1887,969 H1897" stroke="#000" stroke-width="2" fill="none"/>
<g fill="#000"><use href="#trf" x="1653" y="954"/><use href="#trf" x="1701" y="964"/><use href="#trf" x="1748" y="958"/><use href="#trf" x="1796" y="965"/><use href="#trf" x="1844" y="959"/><use href="#trf" x="1892" y="978"/>
<use href="#trf" x="1653" y="927"/><use href="#trf" x="1701" y="926"/><use href="#trf" x="1748" y="918"/><use href="#trf" x="1796" y="907"/><use href="#trf" x="1844" y="884"/><use href="#trf" x="1892" y="919"/>
<use href="#trf" x="1653" y="929"/><use href="#trf" x="1701" y="929"/><use href="#trf" x="1748" y="937"/><use href="#trf" x="1796" y="902"/><use href="#trf" x="1844" y="848"/><use href="#trf" x="1892" y="882"/></g>
<path d="M1638,768 H1658" stroke="#404040" stroke-width="2.2"/><use href="#trf" x="1648" y="768" fill="#000"/>
<path d="M1638,795 H1658" stroke="#1a1aff" stroke-width="2.5"/><use href="#trf" x="1648" y="795" fill="#000"/>
<path d="M1638,822 H1658" stroke="#ff1a1a" stroke-width="2.5"/><use href="#trf" x="1648" y="822" fill="#000"/>
<text x="1663" y="777" textLength="75" lengthAdjust="spacingAndGlyphs">Control</text>
<text x="1663" y="802" textLength="137" lengthAdjust="spacingAndGlyphs">CD19 CAR-T</text>
<text x="1663" y="830" textLength="140" lengthAdjust="spacingAndGlyphs">7× 19 CAR-T</text>
<path d="M1803,763 H1822 V797 H1806 M1828,763 H1843 V822 H1827 M1847,783 H1864 V822 H1850" stroke="#000" stroke-width="3" fill="none"/>
<g text-anchor="middle" font-weight="bold" font-size="22">
<text x="1829" y="788">*</text><text x="1829" y="801">*</text>
<text x="1851" y="790">*</text><text x="1851" y="803">*</text><text x="1851" y="815">*</text><text x="1851" y="827">*</text>
<text x="1873" y="811">*</text><text x="1873" y="824">*</text>
</g>
</svg>
</body></html>
